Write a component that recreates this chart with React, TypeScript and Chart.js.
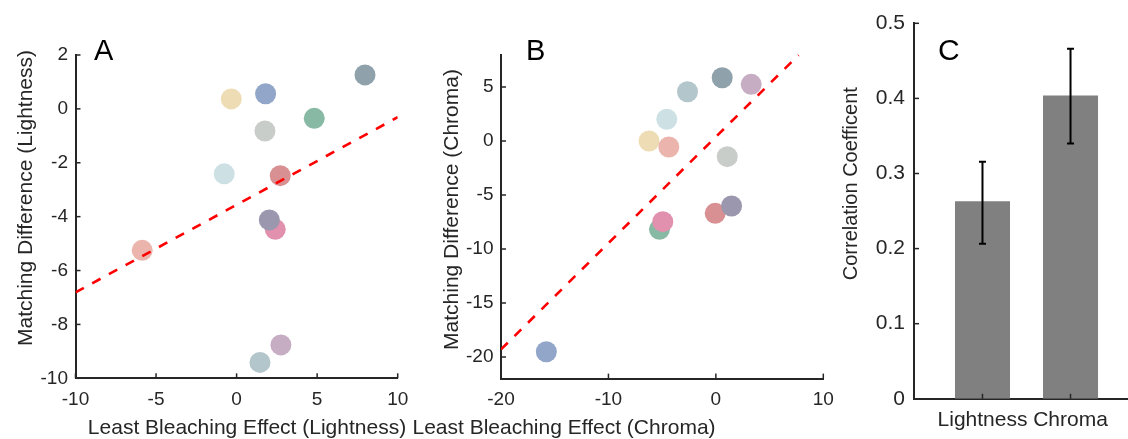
import React, { useEffect, useRef } from 'react';
import { Chart, registerables } from 'chart.js';

Chart.register(...registerables);

const FONT = '"Liberation Sans", Arial, Helvetica, sans-serif';
const AXIS = '#262626';

// One colour per stimulus (same stimulus in panels A and B)
const stimulusColors = [
  '#8fa2ac', '#eedcb4', '#91a6c9', '#88b9a4', '#c9cdc9', '#cde1e4',
  '#d89093', '#e190ad', '#9b97ae', '#ebb4ad', '#c7adc3', '#b2c6cc',
];

// Panel A: Lightness
const lightnessLeast = [7.97, -0.33, 1.8, 4.82, 1.76, -0.77, 2.71, 2.4, 2.03, -5.86, 2.75, 1.45];
const lightnessMatch = [1.26, 0.37, 0.56, -0.35, -0.82, -2.41, -2.48, -4.47, -4.12, -5.25, -8.76, -9.41];
const fitLightnessX = [-10, 10];
const fitLightnessY = [-6.81, -0.31];
const xTicksA = [-10, -5, 0, 5, 10];
const yTicksA = [-10, -8, -6, -4, -2, 0, 2];

// Panel B: Chroma
const chromaLeast = [0.59, -6.22, -15.78, -5.25, 1.06, -4.57, -0.06, -4.94, 1.46, -4.38, 3.29, -2.64];
const chromaMatch = [5.86, 0.0, -19.51, -8.18, -1.45, 2.01, -6.7, -7.47, -6.02, -0.56, 5.25, 4.56];
const fitChromaX = [-20, 7.7];
const fitChromaY = [-19.3, 7.96];
const xTicksB = [-20, -10, 0, 10];
const yTicksB = [-20, -15, -10, -5, 0, 5];

// Panel C: correlation coefficients
const barCategories = ['Lightness', 'Chroma'];
const barValues = [0.263, 0.404];
const barErrLow = [0.2065, 0.34];
const barErrHigh = [0.3155, 0.466];
const yTicksC = [0, 0.1, 0.2, 0.3, 0.4, 0.5];

type TextItem = { text: string; x: number; y: number; size: number; rot?: number; align?: CanvasTextAlign; color?: string };

function makeTextPlugin(id: string, items: TextItem[]) {
  return {
    id,
    afterDraw(chart: any) {
      const ctx = chart.ctx as CanvasRenderingContext2D;
      items.forEach((it) => {
        ctx.save();
        ctx.translate(it.x, it.y);
        ctx.rotate(it.rot || 0);
        ctx.font = `${it.size}px ${FONT}`;
        ctx.fillStyle = it.color || AXIS;
        ctx.textAlign = it.align || 'center';
        ctx.textBaseline = 'alphabetic';
        ctx.fillText(it.text, 0, 0);
        ctx.restore();
      });
    },
  };
}

const inwardTicks = {
  id: 'inwardTicks',
  afterDraw(chart: any) {
    const ctx = chart.ctx as CanvasRenderingContext2D;
    const { x, y } = chart.scales;
    const area = chart.chartArea;
    const len = 5;
    ctx.save();
    ctx.strokeStyle = AXIS;
    ctx.lineWidth = 1.5;
    x.ticks.forEach((t: any) => {
      const px = x.getPixelForValue(t.value);
      ctx.beginPath();
      ctx.moveTo(px, area.bottom);
      ctx.lineTo(px, area.bottom - len);
      ctx.stroke();
    });
    y.ticks.forEach((t: any) => {
      const py = y.getPixelForValue(t.value);
      ctx.beginPath();
      ctx.moveTo(area.left, py);
      ctx.lineTo(area.left + len, py);
      ctx.stroke();
    });
    ctx.restore();
  },
};

const errorBars = {
  id: 'errorBars',
  afterDatasetsDraw(chart: any) {
    const ctx = chart.ctx as CanvasRenderingContext2D;
    const { x, y } = chart.scales;
    ctx.save();
    ctx.strokeStyle = '#000';
    ctx.lineWidth = 2;
    barCategories.forEach((_, i) => {
      const px = x.getPixelForValue(i + 1);
      const top = y.getPixelForValue(barErrHigh[i]);
      const bot = y.getPixelForValue(barErrLow[i]);
      ctx.beginPath();
      ctx.moveTo(px, top);
      ctx.lineTo(px, bot);
      ctx.moveTo(px - 3.5, top);
      ctx.lineTo(px + 3.5, top);
      ctx.moveTo(px - 3.5, bot);
      ctx.lineTo(px + 3.5, bot);
      ctx.stroke();
    });
    ctx.restore();
  },
};

function axis(min: number, max: number, ticks: number[], size: number, pad: number, fit: number, horizontal: boolean, fmt?: (v: number) => string) {
  return {
    type: 'linear',
    min,
    max,
    offset: false,
    grid: { display: false, drawTicks: false, offset: false },
    border: { display: true, color: AXIS, width: 2 },
    ticks: {
      color: AXIS,
      font: { family: FONT, size },
      padding: pad,
      autoSkip: false,
      maxRotation: 0,
      callback: (v: number) => (fmt ? fmt(v) : String(v)),
    },
    afterBuildTicks: (s: any) => {
      s.ticks = ticks.map((v) => ({ value: v }));
    },
    afterFit: (s: any) => {
      if (horizontal) s.height = fit;
      else s.width = fit;
    },
  };
}

function scatterConfig(xs: number[], ys: number[], fx: number[], fy: number[], area: { left: number; right: number; top: number; bottom: number }, xr: [number, number], yr: [number, number], xt: number[], yt: number[], texts: TextItem[], id: string) {
  return {
    type: 'scatter',
    data: {
      datasets: [
        {
          data: fx.map((x, i) => ({ x, y: fy[i] })),
          showLine: true,
          borderColor: '#ff0000',
          borderWidth: 2.6,
          borderDash: [9.5, 9.5],
          pointRadius: 0,
          fill: false,
          order: 0,
        },
        {
          data: xs.map((x, i) => ({ x, y: ys[i] })),
          pointBackgroundColor: stimulusColors,
          backgroundColor: stimulusColors,
          pointBorderWidth: 0,
          borderWidth: 0,
          pointRadius: 10.5,
          order: 1,
        },
      ],
    },
    options: {
      responsive: false,
      animation: false,
      events: [],
      layout: { padding: { left: 0, top: area.top, right: 1128 - area.right, bottom: 0 } },
      plugins: { legend: { display: false }, tooltip: { enabled: false } },
      scales: {
        x: axis(xr[0], xr[1], xt, 19, 10, 439 - area.bottom, true),
        y: axis(yr[0], yr[1], yt, 19, 7.5, area.left, false),
      },
    },
    plugins: [inwardTicks, makeTextPlugin(id, texts)],
  };
}

function configA() {
  return scatterConfig(
    lightnessLeast, lightnessMatch, fitLightnessX, fitLightnessY,
    { left: 75.5, right: 397.7, top: 55, bottom: 378.3 },
    [-10, 10], [-10, 2], xTicksA, yTicksA,
    [
      { text: 'Matching Difference (Lightness)', x: 32, y: 198, size: 21, rot: -Math.PI / 2 },
      { text: 'Least Bleaching Effect (Lightness)', x: 247, y: 434, size: 21 },
      { text: 'A', x: 94, y: 60, size: 29, align: 'left', color: '#000' },
    ],
    'textA'
  );
}

function configB() {
  return scatterConfig(
    chromaLeast, chromaMatch, fitChromaX, fitChromaY,
    { left: 501, right: 823.3, top: 54.6, bottom: 378.6 },
    [-20, 10], [-22, 8], xTicksB, yTicksB,
    [
      { text: 'Matching Difference (Chroma)', x: 458, y: 209.5, size: 21, rot: -Math.PI / 2 },
      { text: 'Least Bleaching Effect (Chroma)', x: 564, y: 434, size: 21 },
      { text: 'B', x: 526, y: 60, size: 29, align: 'left', color: '#000' },
    ],
    'textB'
  );
}

function configC() {
  return {
    type: 'bar',
    data: {
      datasets: [
        {
          data: barCategories.map((_, i) => ({ x: i + 1, y: barValues[i] })),
          backgroundColor: '#808080',
          borderWidth: 0,
          categoryPercentage: 1,
          barPercentage: 0.625,
        },
      ],
    },
    options: {
      responsive: false,
      animation: false,
      events: [],
      layout: { padding: { left: 0, top: 23.3, right: 0, bottom: 0 } },
      plugins: { legend: { display: false }, tooltip: { enabled: false } },
      scales: {
        x: axis(0.222, 2.653, [1, 2], 21, 9, 439 - 398.8, true, (v) => barCategories[v - 1] ?? ''),
        y: axis(0, 0.5, yTicksC, 21, 9, 914, false),
      },
    },
    plugins: [
      errorBars,
      inwardTicks,
      makeTextPlugin('textC', [
        { text: 'Correlation Coefficent', x: 857, y: 183.7, size: 20, rot: -Math.PI / 2 },
        { text: 'C', x: 938, y: 60, size: 30, align: 'left', color: '#000' },
      ]),
    ],
  };
}

export default function App() {
  const refA = useRef<HTMLCanvasElement>(null);
  const refB = useRef<HTMLCanvasElement>(null);
  const refC = useRef<HTMLCanvasElement>(null);

  useEffect(() => {
    const charts = [
      new Chart(refA.current as HTMLCanvasElement, configA() as any),
      new Chart(refB.current as HTMLCanvasElement, configB() as any),
      new Chart(refC.current as HTMLCanvasElement, configC() as any),
    ];
    return () => charts.forEach((c) => c.destroy());
  }, []);

  const cs: React.CSSProperties = { position: 'absolute', left: 0, top: 0, width: 1128, height: 439 };
  return (
    <div style={{ position: 'fixed', left: 0, top: 0, width: 1128, height: 439, background: '#fff', overflow: 'hidden' }}>
      <canvas ref={refA} width={1128} height={439} style={cs} />
      <canvas ref={refB} width={1128} height={439} style={cs} />
      <canvas ref={refC} width={1128} height={439} style={cs} />
    </div>
  );
}
